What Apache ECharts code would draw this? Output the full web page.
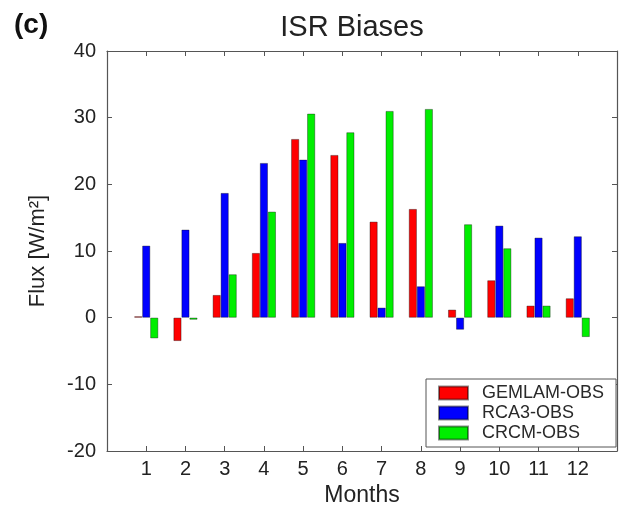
<!DOCTYPE html>
<html>
<head>
<meta charset="utf-8">
<title>ISR Biases</title>
<script src="https://cdn.jsdelivr.net/npm/echarts@6/dist/echarts.min.js"></script>
<style>
  html, body { margin: 0; padding: 0; background: #fff; }
  #chart { width: 629px; height: 512px; }
</style>
</head>
<body>
<div id="chart"></div>
<script>
// Monthly incoming shortwave radiation biases (W/m^2) of three regional models vs. observations
const months = [1, 2, 3, 4, 5, 6, 7, 8, 9, 10, 11, 12];
const gemlam = [0.2, -3.5, 3.4, 9.7, 26.8, 24.4, 14.4, 16.3, 1.2, 5.6, 1.8, 2.9];
const rca3   = [10.8, 13.2, 18.7, 23.2, 23.7, 11.2, 1.5, 4.7, -1.8, 13.8, 12.0, 12.2];
const crcm   = [-3.1, -0.3, 6.5, 15.9, 30.6, 27.8, 31.0, 31.3, 14.0, 10.4, 1.8, -2.9];
const yTicks = [-20, -10, 0, 10, 20, 30, 40];

const FONT = '"Liberation Sans", Arial, sans-serif';
const AXIS_COLOR = '#555';

const chart = echarts.init(document.getElementById('chart'), null, { renderer: 'canvas' });

function barSeries(name, values, color) {
  return {
    name: name,
    type: 'bar',
    xAxisIndex: 0,
    yAxisIndex: 0,
    barWidth: 8,
    barGap: '0%',
    data: months.map((m, i) => [m, values[i]]),
    itemStyle: { color: color, borderColor: 'rgba(0,0,0,0.45)', borderWidth: 0.8 },
    emphasis: { disabled: true },
    animation: false
  };
}

const tickCommon = { show: true, inside: true, length: 5, lineStyle: { color: AXIS_COLOR, width: 1 } };
const lineCommon = { show: true, onZero: false, lineStyle: { color: AXIS_COLOR, width: 1.2 } };

chart.setOption({
  backgroundColor: '#fff',
  animation: false,
  grid: { left: 107, right: 12, top: 51, bottom: 61, containLabel: false, outerBoundsMode: 'none' },
  title: [
    {
      text: 'ISR Biases',
      left: 347, top: 8, textAlign: 'center',
      textStyle: { fontFamily: FONT, fontSize: 29, fontWeight: 'normal', color: '#222' }
    },
    {
      text: '(c)',
      left: 9, top: 6,
      textStyle: { fontFamily: FONT, fontSize: 28, fontWeight: 'bold', color: '#111' }
    }
  ],
  legend: {
    orient: 'vertical',
    left: 426, top: 379,
    width: 186,
    padding: [5, 12, 5, 12],
    itemGap: 2,
    itemWidth: 29,
    itemHeight: 13,
    icon: 'rect',
    backgroundColor: '#fff',
    borderColor: AXIS_COLOR,
    borderWidth: 1,
    selectedMode: false,
    textStyle: { fontFamily: FONT, fontSize: 18, color: '#2a2a2a', padding: [0, 0, 0, 9], lineHeight: 18 },
    data: ['GEMLAM-OBS', 'RCA3-OBS', 'CRCM-OBS']
  },
  xAxis: [
    {
      type: 'value', position: 'bottom',
      min: 0, max: 13, interval: 1,
      name: 'Months', nameLocation: 'middle', nameGap: 33,
      nameTextStyle: { fontFamily: FONT, fontSize: 23, color: '#222' },
      axisLine: lineCommon,
      axisTick: tickCommon,
      axisLabel: {
        fontFamily: FONT, fontSize: 20, color: '#222', margin: 8,
        formatter: v => (months.indexOf(v) >= 0 ? String(v) : '')
      },
      splitLine: { show: false }
    },
    {
      type: 'value', position: 'top',
      min: 0, max: 13, interval: 1,
      axisLine: lineCommon,
      axisTick: tickCommon,
      axisLabel: { show: false },
      splitLine: { show: false }
    }
  ],
  yAxis: [
    {
      type: 'value', position: 'left',
      min: yTicks[0], max: yTicks[yTicks.length - 1], interval: 10,
      name: 'Flux [W/m²]', nameLocation: 'middle', nameGap: 58, nameRotate: 90,
      nameTextStyle: { fontFamily: FONT, fontSize: 22, color: '#222' },
      axisLine: lineCommon,
      axisTick: tickCommon,
      axisLabel: { fontFamily: FONT, fontSize: 20, color: '#222', margin: 11 },
      splitLine: { show: false }
    },
    {
      type: 'value', position: 'right',
      min: yTicks[0], max: yTicks[yTicks.length - 1], interval: 10,
      axisLine: lineCommon,
      axisTick: tickCommon,
      axisLabel: { show: false },
      splitLine: { show: false }
    }
  ],
  series: [
    barSeries('GEMLAM-OBS', gemlam, '#ff0000'),
    barSeries('RCA3-OBS', rca3, '#0000ff'),
    barSeries('CRCM-OBS', crcm, '#00ee00')
  ]
});
</script>
</body>
</html>
